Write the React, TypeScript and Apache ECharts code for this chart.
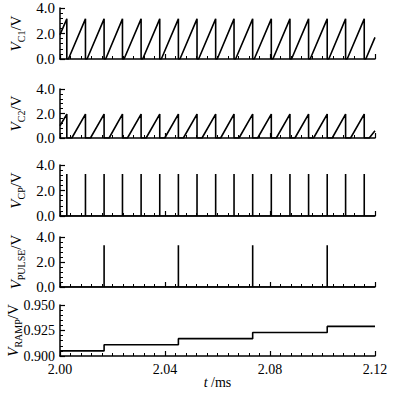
import React, { useEffect, useRef } from "react";
import * as echarts from "echarts";

// Time axis (ms)
const T_MIN = 2.0;
const T_MAX = 2.12;
const T_TICKS = ["2.00", "2.04", "2.08", "2.12"];

// V_C1 sawtooth: peak times, ramp-start times, peak value, values at the window edges
const c1PeakTimes = [2.0026, 2.0097, 2.0168, 2.0238, 2.0309, 2.038, 2.0451, 2.0522, 2.0593, 2.0663, 2.0734, 2.0805, 2.0876, 2.0947, 2.1018, 2.1088, 2.1159];
const c1RampStarts = [2.0032, 2.0103, 2.0174, 2.0244, 2.0315, 2.0386, 2.0457, 2.0528, 2.0599, 2.0669, 2.074, 2.0811, 2.0882, 2.0953, 2.1024, 2.1094, 2.1165];
const c1Peak = 3.15;
const c1StartValue = 1.9;
const c1EndValue = 1.7;

// V_C2 sawtooth
const c2PeakTimes = [2.0026, 2.0097, 2.0168, 2.0238, 2.0309, 2.038, 2.0451, 2.0522, 2.0593, 2.0663, 2.0734, 2.0805, 2.0876, 2.0947, 2.1018, 2.1088, 2.1159];
const c2RampStarts = [2.0045, 2.0116, 2.0187, 2.0257, 2.0328, 2.0399, 2.047, 2.0541, 2.0612, 2.0682, 2.0753, 2.0824, 2.0895, 2.0966, 2.1037, 2.1107, 2.1178];
const c2Peak = 1.95;
const c2StartValue = 1.0;
const c2EndValue = 0.6;

// V_CP pulses
const cpPulseTimes = [2.0026, 2.0097, 2.0168, 2.0238, 2.0309, 2.038, 2.0451, 2.0522, 2.0593, 2.0663, 2.0734, 2.0805, 2.0876, 2.0947, 2.1018, 2.1088, 2.1159];
const cpPulseHeight = 3.3;

// V_PULSE pulses
const pulseTimes = [2.0168, 2.0451, 2.0734, 2.1018];
const pulseHeight = 3.35;

// V_RAMP staircase: step times and levels
const rampStepTimes = [2.0, 2.0168, 2.0451, 2.0734, 2.1018];
const rampLevels = [0.905, 0.911, 0.917, 0.923, 0.929];

const FONT = "Liberation Serif";

function sawtooth(peaks: number[], starts: number[], peak: number, v0: number, vEnd: number) {
  const pts: number[][] = [[T_MIN, v0]];
  peaks.forEach((p, i) => {
    pts.push([p, peak]);
    pts.push([p, 0]);
    pts.push([starts[i], 0]);
  });
  pts.push([T_MAX, vEnd]);
  return pts;
}

function spikes(times: number[], h: number) {
  const pts: number[][] = [[T_MIN, 0]];
  times.forEach((t) => {
    pts.push([t, 0]);
    pts.push([t, h]);
    pts.push([t, 0]);
  });
  pts.push([T_MAX, 0]);
  return pts;
}

const rampData = rampStepTimes.map((t, i) => [t, rampLevels[i]]).concat([[T_MAX, rampLevels[rampLevels.length - 1]]]);

const grids = [
  { top: 8, height: 51 },
  { top: 89, height: 49 },
  { top: 165, height: 51 },
  { top: 237, height: 50 },
  { top: 305, height: 51 },
];

const names = [
  "{i|V}{s|C1}{n|/V}",
  "{i|V}{s|C2}{n|/V}",
  "{i|V}{s|CP}{n|/V}",
  "{i|V}{s|PULSE}{n|/V}",
  "{i|V}{s|RAMP}{n|/V}",
];

export default function App() {
  const ref = useRef<HTMLDivElement>(null);
  useEffect(() => {
    if (!ref.current) return;
    const chart = echarts.init(ref.current, null, { renderer: "svg" });
    const black = "#000";
    const richName = {
      i: { fontStyle: "italic", fontSize: 15, fontFamily: FONT, color: black, verticalAlign: "middle", lineHeight: 16 },
      s: { fontSize: 10, fontFamily: FONT, color: black, verticalAlign: "bottom", lineHeight: 16, padding: [0, 0, -2, 0] },
      n: { fontSize: 15, fontFamily: FONT, color: black, verticalAlign: "middle", lineHeight: 16 },
    };
    const xAxes = grids.map((_, i) => ({
      type: "value",
      gridIndex: i,
      min: T_MIN,
      max: T_MAX,
      interval: 0.04,
      axisLine: { show: true, lineStyle: { color: black, width: 1.5 } },
      axisTick: { show: true, inside: true, length: 5, lineStyle: { color: black, width: 1.2 } },
      minorTick: { show: true, splitNumber: 10, length: 3, lineStyle: { color: black, width: 1 } },
      splitLine: { show: false },
      axisLabel: {
        show: i === 4,
        fontFamily: FONT,
        fontSize: 14,
        color: black,
        margin: 6,
        formatter: (v: number) => {
          const s = v.toFixed(2);
          return T_TICKS.includes(s) ? s : "";
        },
      },
      name: i === 4 ? "{i|t} {n|/ms}" : "",
      nameLocation: "middle",
      nameGap: 19,
      nameMoveOverlap: false,
      nameTextStyle: {
        rich: {
          i: { fontStyle: "italic", fontSize: 14, fontFamily: FONT, color: black },
          n: { fontSize: 14, fontFamily: FONT, color: black },
        },
      },
    }));
    const yAxes = grids.map((_, i) => {
      const isRamp = i === 4;
      return {
        type: "value",
        gridIndex: i,
        min: isRamp ? 0.9 : 0,
        max: isRamp ? 0.95 : 4,
        interval: isRamp ? 0.025 : 2,
        axisLine: { show: true, lineStyle: { color: black, width: 1.5 } },
        axisTick: { show: true, inside: true, length: 5, lineStyle: { color: black, width: 1.2 } },
        minorTick: { show: true, splitNumber: 5, length: 3, lineStyle: { color: black, width: 1 } },
        splitLine: { show: false },
        axisLabel: {
          fontFamily: FONT,
          fontSize: isRamp ? 14 : 15,
          color: black,
          margin: 5,
          formatter: (v: number) => (isRamp ? v.toFixed(3) : v.toFixed(1)),
        },
        name: names[i],
        nameLocation: "middle",
        nameGap: isRamp ? 39 : 36,
        nameRotate: 90,
        nameMoveOverlap: false,
        nameTextStyle: { rich: richName },
      };
    });
    const lineBase = {
      type: "line",
      showSymbol: false,
      symbol: "none",
      lineStyle: { color: black, width: 1.6 },
      itemStyle: { color: black },
      silent: true,
    };
    chart.setOption({
      animation: false,
      backgroundColor: "#fff",
      grid: grids.map((g) => ({ left: 60, right: 21, top: g.top, height: g.height, containLabel: false, outerBoundsMode: "none" })),
      xAxis: xAxes,
      yAxis: yAxes,
      series: [
        { ...lineBase, xAxisIndex: 0, yAxisIndex: 0, data: sawtooth(c1PeakTimes, c1RampStarts, c1Peak, c1StartValue, c1EndValue) },
        { ...lineBase, xAxisIndex: 1, yAxisIndex: 1, data: sawtooth(c2PeakTimes, c2RampStarts, c2Peak, c2StartValue, c2EndValue) },
        { ...lineBase, xAxisIndex: 2, yAxisIndex: 2, data: spikes(cpPulseTimes, cpPulseHeight) },
        { ...lineBase, xAxisIndex: 3, yAxisIndex: 3, data: spikes(pulseTimes, pulseHeight) },
        { ...lineBase, xAxisIndex: 4, yAxisIndex: 4, step: "end", data: rampData },
      ],
    });
    return () => chart.dispose();
  }, []);
  return <div ref={ref} style={{ position: "fixed", left: 0, top: 0, width: 396, height: 395, background: "#fff" }} />;
}
